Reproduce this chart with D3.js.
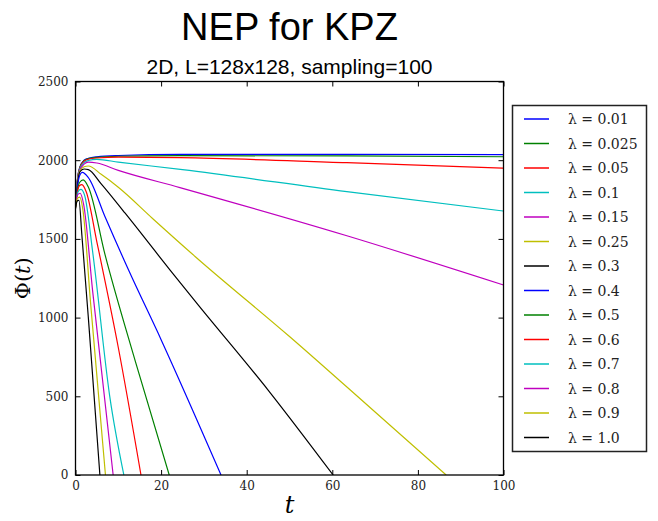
<!DOCTYPE html>
<html>
<head>
<meta charset="utf-8">
<script src="https://cdn.jsdelivr.net/npm/d3@7"></script>
<style>
  body { margin: 0; background: #fff; }
  svg { display: block; }
</style>
</head>
<body>
<div id="chart"></div>
<script>
// lambda values shown in the legend
const lambdas = ["0.01", "0.025", "0.05", "0.1", "0.15", "0.25", "0.3",
                 "0.4", "0.5", "0.6", "0.7", "0.8", "0.9", "1.0"];

// time points and Phi(t) readings for each curve
const seriesT = [
  [0, 0.5, 1, 2, 3, 5, 10, 24.4, 63.4, 100],
  [0, 0.5, 1, 2, 3, 5, 10, 24.4, 63.4, 100],
  [0, 0.5, 1, 2, 3, 5, 10, 24.4, 63.4, 100],
  [0, 0.5, 1, 2, 3, 5, 10, 25, 63.4, 100],
  [0, 0.5, 1, 2, 3, 5, 10, 24.4, 63.4, 100],
  [0, 0.5, 1, 2, 3, 6, 10, 18, 28, 50, 70, 86.6],
  [0, 0.5, 1, 2, 3, 6, 11.6, 22.1, 28.7, 45, 60.2],
  [0, 0.5, 1, 1.6, 3, 6.9, 12.4, 20, 34],
  [0, 0.4, 1, 1.8, 3, 6.9, 14, 21.9],
  [0, 0.4, 0.9, 1.5, 2.5, 5, 10, 15.3],
  [0, 0.35, 0.8, 1.3, 2.2, 4, 8, 11.3],
  [0, 0.3, 0.7, 1.1, 1.9, 4, 8.8],
  [0, 0.3, 0.6, 1.0, 1.7, 3.5, 7.0],
  [0, 0.25, 0.5, 0.8, 1.5, 3, 5.7]
];
const seriesPhi = [
  [1720, 1890, 1955, 2000, 2012, 2022, 2030, 2037, 2037, 2036],
  [1720, 1885, 1952, 1997, 2010, 2018, 2025, 2029, 2027, 2022],
  [1720, 1885, 1950, 1993, 2006, 2014, 2019, 2016, 1984, 1950],
  [1720, 1880, 1945, 1985, 1998, 2005, 1988, 1940, 1800, 1677],
  [1720, 1870, 1935, 1975, 1988, 1982, 1935, 1826, 1520, 1207],
  [1710, 1860, 1930, 1958, 1963, 1910, 1828, 1630, 1387, 880, 400, 0],
  [1710, 1855, 1925, 1944, 1940, 1850, 1663, 1302, 1080, 540, 0],
  [1710, 1840, 1905, 1923, 1890, 1641, 1302, 860, 0],
  [1700, 1800, 1860, 1875, 1830, 1400, 720, 0],
  [1700, 1790, 1838, 1845, 1800, 1480, 810, 0],
  [1700, 1775, 1808, 1815, 1770, 1420, 500, 0],
  [1700, 1765, 1786, 1790, 1720, 1170, 0],
  [1700, 1745, 1762, 1765, 1690, 1100, 0],
  [1690, 1730, 1743, 1745, 1520, 1000, 0]
];

// axis ticks
const xTicks = [0, 20, 40, 60, 80, 100];
const yTicks = [0, 500, 1000, 1500, 2000, 2500];

// matplotlib classic color cycle
const palette = ["#0000ff", "#008000", "#ff0000", "#00bfbf", "#bf00bf", "#bfbf00", "#000000"];

const width = 658, height = 521;
const plot = {left: 75.5, right: 503.5, top: 81.5, bottom: 475};

const svg = d3.select("#chart")
  .append("svg")
  .attr("width", width)
  .attr("height", height);

const x = d3.scaleLinear().domain([0, 100]).range([plot.left, plot.right]);
const y = d3.scaleLinear().domain([0, 2500]).range([plot.bottom, plot.top]);

const serif = "'DejaVu Serif', 'Liberation Serif', serif";
const sans = "'Liberation Sans', Arial, sans-serif";

// curves
svg.append("defs").append("clipPath").attr("id", "clip")
  .append("rect")
  .attr("x", plot.left).attr("y", plot.top)
  .attr("width", plot.right - plot.left)
  .attr("height", plot.bottom - plot.top);

const line = d3.line()
  .x(d => x(d[0]))
  .y(d => y(d[1]))
  .curve(d3.curveMonotoneX);

const curves = svg.append("g").attr("clip-path", "url(#clip)");
lambdas.forEach((lam, i) => {
  const pts = seriesT[i].map((t, j) => [t, seriesPhi[i][j]]);
  curves.append("path")
    .datum(pts)
    .attr("fill", "none")
    .attr("stroke", palette[i % palette.length])
    .attr("stroke-width", 1.2)
    .attr("d", line);
});

// axes with inward ticks on all four sides
function styleAxis(g) {
  g.select(".domain").remove();
  g.selectAll("text")
    .attr("font-family", serif)
    .attr("font-size", 12)
    .attr("fill", "#222");
  g.selectAll("line").attr("stroke", "#000");
}

const fmt = d3.format("d");

svg.append("g")
  .attr("transform", `translate(0,${plot.bottom})`)
  .call(d3.axisBottom(x).tickValues(xTicks).tickFormat(fmt).tickSizeInner(-5).tickSizeOuter(0).tickPadding(6))
  .call(styleAxis);

svg.append("g")
  .attr("transform", `translate(0,${plot.top})`)
  .call(d3.axisTop(x).tickValues(xTicks).tickSizeInner(-5).tickSizeOuter(0).tickFormat(""))
  .call(styleAxis);

svg.append("g")
  .attr("transform", `translate(${plot.left},0)`)
  .call(d3.axisLeft(y).tickValues(yTicks).tickFormat(fmt).tickSizeInner(-5).tickSizeOuter(0).tickPadding(7))
  .call(styleAxis);

svg.append("g")
  .attr("transform", `translate(${plot.right},0)`)
  .call(d3.axisRight(y).tickValues(yTicks).tickSizeInner(-5).tickSizeOuter(0).tickFormat(""))
  .call(styleAxis);

// frame
svg.append("rect")
  .attr("x", plot.left).attr("y", plot.top)
  .attr("width", plot.right - plot.left)
  .attr("height", plot.bottom - plot.top)
  .attr("fill", "none")
  .attr("stroke", "#000")
  .attr("stroke-width", 1.3);

// titles
const cx = (plot.left + plot.right) / 2;
svg.append("text")
  .attr("x", cx).attr("y", 40)
  .attr("text-anchor", "middle")
  .attr("font-family", sans)
  .attr("font-size", 38)
  .text("NEP for KPZ");

svg.append("text")
  .attr("x", cx).attr("y", 74)
  .attr("text-anchor", "middle")
  .attr("font-family", sans)
  .attr("font-size", 21)
  .text("2D, L=128x128, sampling=100");

// axis labels
const yLabel = svg.append("text")
  .attr("transform", `translate(30,${(plot.top + plot.bottom) / 2}) rotate(-90)`)
  .attr("text-anchor", "middle")
  .attr("font-family", serif)
  .attr("font-size", 21);
yLabel.append("tspan").text("Φ(");
yLabel.append("tspan").attr("font-style", "italic").text("t");
yLabel.append("tspan").text(")");

svg.append("text")
  .attr("x", cx).attr("y", 513)
  .attr("text-anchor", "middle")
  .attr("font-family", serif)
  .attr("font-style", "italic")
  .attr("font-size", 24)
  .text("t");

// legend
const legend = svg.append("g");
legend.append("rect")
  .attr("x", 512.5).attr("y", 105.5)
  .attr("width", 134).attr("height", 346)
  .attr("fill", "#fff")
  .attr("stroke", "#222")
  .attr("stroke-width", 1.5);

lambdas.forEach((lam, i) => {
  const ly = 119 + i * 24.5;
  legend.append("line")
    .attr("x1", 524).attr("x2", 549)
    .attr("y1", ly).attr("y2", ly)
    .attr("stroke", palette[i % palette.length])
    .attr("stroke-width", 1.5);
  legend.append("text")
    .attr("x", 568).attr("y", ly + 5)
    .attr("font-family", serif)
    .attr("font-size", 14)
    .attr("fill", "#222")
    .text(`λ = ${lam}`);
});
</script>
</body>
</html>
